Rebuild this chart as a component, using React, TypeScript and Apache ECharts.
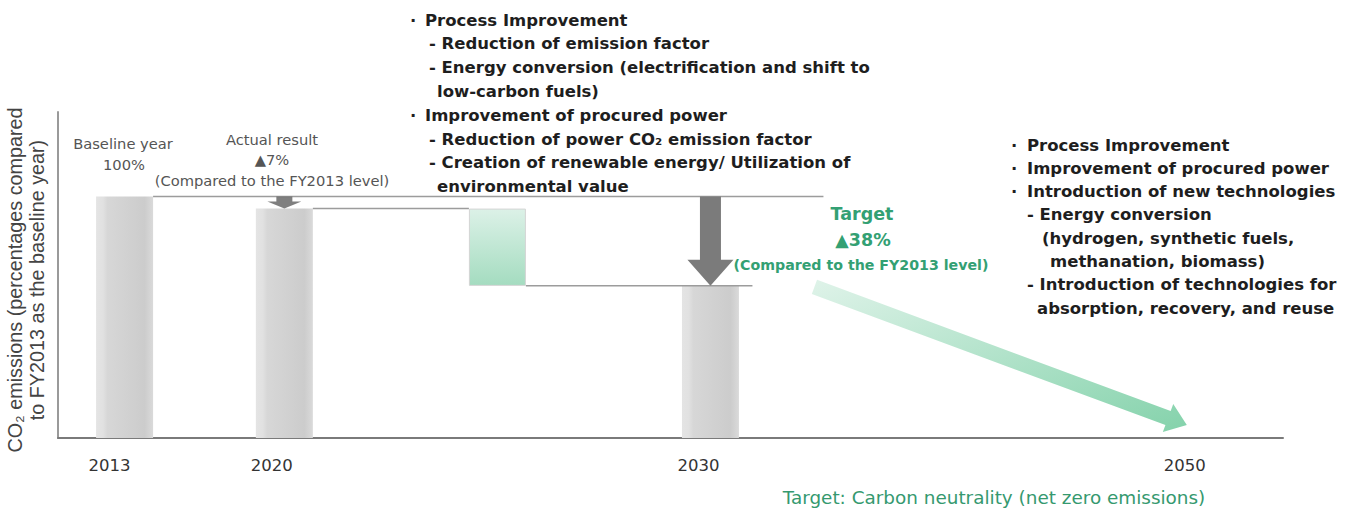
import React, { useEffect, useRef } from "react";
import * as echarts from "echarts";

// ---------------- data ----------------
const SLOT_COUNT = 46;
const YEAR_LABELS = ["2013", "2020", "2030", "2050"];
const YEAR_SLOTS = [2, 8, 24, 42];
const BAR_YEARS = ["2013", "2020", "2030"];
const BAR_VALUES = [100, 95, 63];
const STEP_SLOT = 16; // reduction measures step between 2020 and 2030
const STEP_RANGE = [63, 95];
const Y_MAX = 135;

const CONNECTORS = [
  { from: "2013", to: "2030", value: 100 },
  { from: "2020", to: "step", value: 95 },
  { from: "step", to: "2030", value: 63 },
];
const DOWN_ARROWS = [
  { year: "2020", from: 100, to: 95 },
  { year: "2030", from: 100, to: 63 },
];
const GREEN_ARROW = { fromYear: "2030", fromValue: 63, toYear: "2050", toValue: 0 };

const Y_NAME = "CO₂ emissions (percentages compared\nto FY2013 as the baseline year)";
const BASELINE_TEXT = ["Baseline year", "100%"];
const ACTUAL_TEXT = ["Actual result", "▲7%", "(Compared to the FY2013 level)"];
const TARGET_TEXT = ["Target", "▲38%", "(Compared to the FY2013 level)"];
const BOTTOM_TEXT = "Target: Carbon neutrality (net zero emissions)";

const TOP_LINES: [string, string][] = [
  ["bullet", "Process Improvement"],
  ["dash", "- Reduction of emission factor"],
  ["dash", "- Energy conversion (electrification and shift to"],
  ["cont", "low-carbon fuels)"],
  ["bullet", "Improvement of procured power"],
  ["dash", "- Reduction of power CO₂ emission factor"],
  ["dash", "- Creation of renewable energy/ Utilization of"],
  ["cont", "environmental value"],
];
const RIGHT_LINES: [string, string][] = [
  ["bullet", "Process Improvement"],
  ["bullet", "Improvement of procured power"],
  ["bullet", "Introduction of new technologies"],
  ["dash", "- Energy conversion"],
  ["cont1", "(hydrogen, synthetic fuels,"],
  ["cont2", "methanation, biomass)"],
  ["dash", "- Introduction of technologies for"],
  ["cont", "absorption, recovery, and reuse"],
];

// ---------------- style ----------------
const FONT = '"DejaVu Sans", sans-serif';
const BAR_W = 57;
const LABEL_PAD: number[][] = [
  [0, 30, 0, 0],
  [0, 25, 0, 0],
  [0, 24, 0, 0],
  [0, 10, 0, 0],
];
const CONNECTOR_END = [113, -BAR_W / 2, 42];
const ARROW_SIZES = [
  { shaft: 16, head: 34, headLen: 7, color: "rgba(105,105,105,0.85)" },
  { shaft: 21, head: 46, headLen: 26, color: "#7b7b7b" },
];
const TOP_INDENT: Record<string, number> = { bullet: 13, dash: 17, cont: 25 };
const RIGHT_INDENT: Record<string, number> = { bullet: 14, dash: 14, cont1: 29, cont2: 37, cont: 24 };

const slotOf = (name: string) =>
  name === "step" ? STEP_SLOT : YEAR_SLOTS[YEAR_LABELS.indexOf(name)];

function txt(
  x: number,
  y: number,
  text: string,
  size: number,
  color: string,
  weight: string = "normal",
  align: string = "left"
) {
  return {
    type: "text",
    x,
    y,
    silent: true,
    style: {
      text,
      fill: color,
      fontSize: size,
      fontFamily: FONT,
      fontWeight: weight,
      textAlign: align,
      textVerticalAlign: "middle",
      align,
      verticalAlign: "middle",
    },
  };
}

function buildOption() {
  const categories = Array.from({ length: SLOT_COUNT }, (_, i) => {
    const k = YEAR_SLOTS.indexOf(i);
    if (k >= 0) return { value: YEAR_LABELS[k], textStyle: { padding: LABEL_PAD[k] } };
    return "_" + i;
  });

  const grayData: any[] = Array(SLOT_COUNT).fill("-");
  BAR_YEARS.forEach((y, i) => {
    grayData[slotOf(y)] = BAR_VALUES[i];
  });
  const stepBase: any[] = Array(SLOT_COUNT).fill("-");
  const stepTop: any[] = Array(SLOT_COUNT).fill("-");
  stepBase[STEP_SLOT] = STEP_RANGE[0];
  stepTop[STEP_SLOT] = STEP_RANGE[1] - STEP_RANGE[0];

  const grayGrad = new echarts.graphic.LinearGradient(0, 0, 1, 0, [
    { offset: 0, color: "#e4e4e4" },
    { offset: 0.12, color: "#e1e1e1" },
    { offset: 0.2, color: "#d7d7d7" },
    { offset: 0.85, color: "#cccccc" },
    { offset: 1, color: "#dadada" },
  ]);
  const greenGrad = new echarts.graphic.LinearGradient(0, 0, 0, 1, [
    { offset: 0, color: "#dcf1e7" },
    { offset: 1, color: "#a4dcc0" },
  ]);
  const greenArrowGrad = new echarts.graphic.LinearGradient(0, 0, 1, 1, [
    { offset: 0, color: "#dff3e9" },
    { offset: 1, color: "#84d2ab" },
  ]);

  const graphics: any[] = [];
  TOP_LINES.forEach(([kind, text], i) => {
    const y = 20 + i * 23.8;
    if (kind === "bullet") graphics.push(txt(410, y, "·", 16.5, "#1e1e1e", "bold"));
    graphics.push(txt(412 + TOP_INDENT[kind], y, text, 16.5, "#1e1e1e", "bold"));
  });
  RIGHT_LINES.forEach(([kind, text], i) => {
    const y = 145 + i * 23.3;
    if (kind === "bullet") graphics.push(txt(1011, y, "·", 16.5, "#1e1e1e", "bold"));
    graphics.push(txt(1013 + RIGHT_INDENT[kind], y, text, 16.5, "#1e1e1e", "bold"));
  });
  graphics.push(txt(123, 143, BASELINE_TEXT[0], 14.7, "#555", "normal", "center"));
  graphics.push(txt(124, 164, BASELINE_TEXT[1], 14.7, "#555", "normal", "center"));
  graphics.push(txt(272, 139, ACTUAL_TEXT[0], 14.7, "#555", "normal", "center"));
  graphics.push(txt(272, 159, ACTUAL_TEXT[1], 14.7, "#555", "normal", "center"));
  graphics.push(txt(272, 180, ACTUAL_TEXT[2], 14.7, "#555", "normal", "center"));
  graphics.push(txt(862, 214, TARGET_TEXT[0], 17.5, "#33a073", "bold", "center"));
  graphics.push(txt(863, 240, TARGET_TEXT[1], 17.5, "#33a073", "bold", "center"));
  graphics.push(txt(861, 265, TARGET_TEXT[2], 14.2, "#33a073", "bold", "center"));
  graphics.push(txt(994, 497, BOTTOM_TEXT, 18.4, "#35996f", "normal", "center"));

  return {
    animation: false,
    backgroundColor: "#ffffff",
    grid: {
      left: 58,
      right: 66,
      top: 112,
      bottom: 72,
      containLabel: false,
      outerBoundsMode: "none",
    },
    xAxis: {
      type: "category",
      data: categories,
      boundaryGap: true,
      axisLine: { show: true, lineStyle: { color: "#7a7a7a", width: 2 } },
      axisTick: { show: false },
      splitLine: { show: false },
      axisLabel: {
        interval: 0,
        margin: 19,
        color: "#333",
        fontSize: 16.5,
        fontFamily: FONT,
        formatter: (v: string) => (v.startsWith("_") ? "" : v),
      },
    },
    yAxis: {
      type: "value",
      min: 0,
      max: Y_MAX,
      name: Y_NAME,
      nameLocation: "middle",
      nameRotate: 90,
      nameGap: 10,
      nameTextStyle: {
        fontFamily: '"Liberation Sans", Arial, sans-serif',
        fontSize: 19.8,
        lineHeight: 22,
        color: "#444",
        padding: [0, 10, 0, 0],
      },
      axisLine: { show: true, lineStyle: { color: "#9a9a9a", width: 2 } },
      axisTick: { show: false },
      axisLabel: { show: false },
      splitLine: { show: false },
    },
    graphic: graphics,
    series: [
      {
        name: "Emissions",
        type: "bar",
        stack: "total",
        barWidth: BAR_W,
        data: grayData,
        itemStyle: { color: grayGrad },
        silent: true,
        z: 2,
      },
      {
        name: "StepBase",
        type: "bar",
        stack: "total",
        barWidth: BAR_W,
        data: stepBase,
        itemStyle: { color: "rgba(0,0,0,0)" },
        silent: true,
        z: 2,
      },
      {
        name: "Reduction",
        type: "bar",
        stack: "total",
        barWidth: BAR_W,
        data: stepTop,
        itemStyle: { color: greenGrad, borderColor: "#d4d4d4", borderWidth: 1 },
        silent: true,
        z: 2,
      },
      {
        name: "Connectors",
        type: "custom",
        silent: true,
        z: 3,
        encode: { x: [0, 1], y: 2 },
        data: CONNECTORS.map((c) => [slotOf(c.from), slotOf(c.to), c.value]),
        renderItem: (params: any, api: any) => {
          const a = api.coord([api.value(0), api.value(2)]);
          const b = api.coord([api.value(1), api.value(2)]);
          return {
            type: "line",
            shape: {
              x1: a[0] + BAR_W / 2,
              y1: a[1],
              x2: b[0] + CONNECTOR_END[params.dataIndex],
              y2: b[1],
            },
            style: { stroke: "#9c9c9c", lineWidth: 1.5 },
          };
        },
      },
      {
        name: "Arrows",
        type: "custom",
        silent: true,
        z: 4,
        encode: { x: 0, y: [1, 2] },
        data: DOWN_ARROWS.map((a) => [slotOf(a.year), a.from, a.to]),
        renderItem: (params: any, api: any) => {
          const top = api.coord([api.value(0), api.value(1)]);
          const tip = api.coord([api.value(0), api.value(2)]);
          const s = ARROW_SIZES[params.dataIndex];
          const cx = top[0];
          const yb = tip[1] - s.headLen;
          return {
            type: "polygon",
            shape: {
              points: [
                [cx - s.shaft / 2, top[1]],
                [cx + s.shaft / 2, top[1]],
                [cx + s.shaft / 2, yb],
                [cx + s.head / 2, yb],
                [cx, tip[1]],
                [cx - s.head / 2, yb],
                [cx - s.shaft / 2, yb],
              ],
            },
            style: { fill: s.color },
          };
        },
      },
      {
        name: "Path to 2050",
        type: "custom",
        silent: true,
        z: 4,
        encode: { x: [0, 2], y: [1, 3] },
        data: [[slotOf(GREEN_ARROW.fromYear), GREEN_ARROW.fromValue, slotOf(GREEN_ARROW.toYear), GREEN_ARROW.toValue]],
        renderItem: (params: any, api: any) => {
          const s0 = api.coord([api.value(0), api.value(1)]);
          const e0 = api.coord([api.value(2), api.value(3)]);
          const S = [s0[0] + 104, s0[1] + 1];
          const E = [e0[0] - 3, e0[1] - 13];
          const dx = E[0] - S[0];
          const dy = E[1] - S[1];
          const L = Math.sqrt(dx * dx + dy * dy);
          const ux = dx / L, uy = dy / L;
          const nx = -uy, ny = ux;
          const hw = 7.5, hh = 15, hl = 20;
          const bx = E[0] - ux * hl, by = E[1] - uy * hl;
          return {
            type: "polygon",
            shape: {
              points: [
                [S[0] + nx * hw, S[1] + ny * hw],
                [bx + nx * hw, by + ny * hw],
                [bx + nx * hh, by + ny * hh],
                [E[0], E[1]],
                [bx - nx * hh, by - ny * hh],
                [bx - nx * hw, by - ny * hw],
                [S[0] - nx * hw, S[1] - ny * hw],
              ],
            },
            style: { fill: greenArrowGrad },
          };
        },
      },
    ],
  };
}

export default function App() {
  const ref = useRef<HTMLDivElement>(null);
  useEffect(() => {
    document.body.style.margin = "0";
    const chart = echarts.init(ref.current as HTMLDivElement, null, { renderer: "svg" });
    chart.setOption(buildOption() as any);
    return () => chart.dispose();
  }, []);
  return <div ref={ref} style={{ width: 1349, height: 510 }} />;
}
